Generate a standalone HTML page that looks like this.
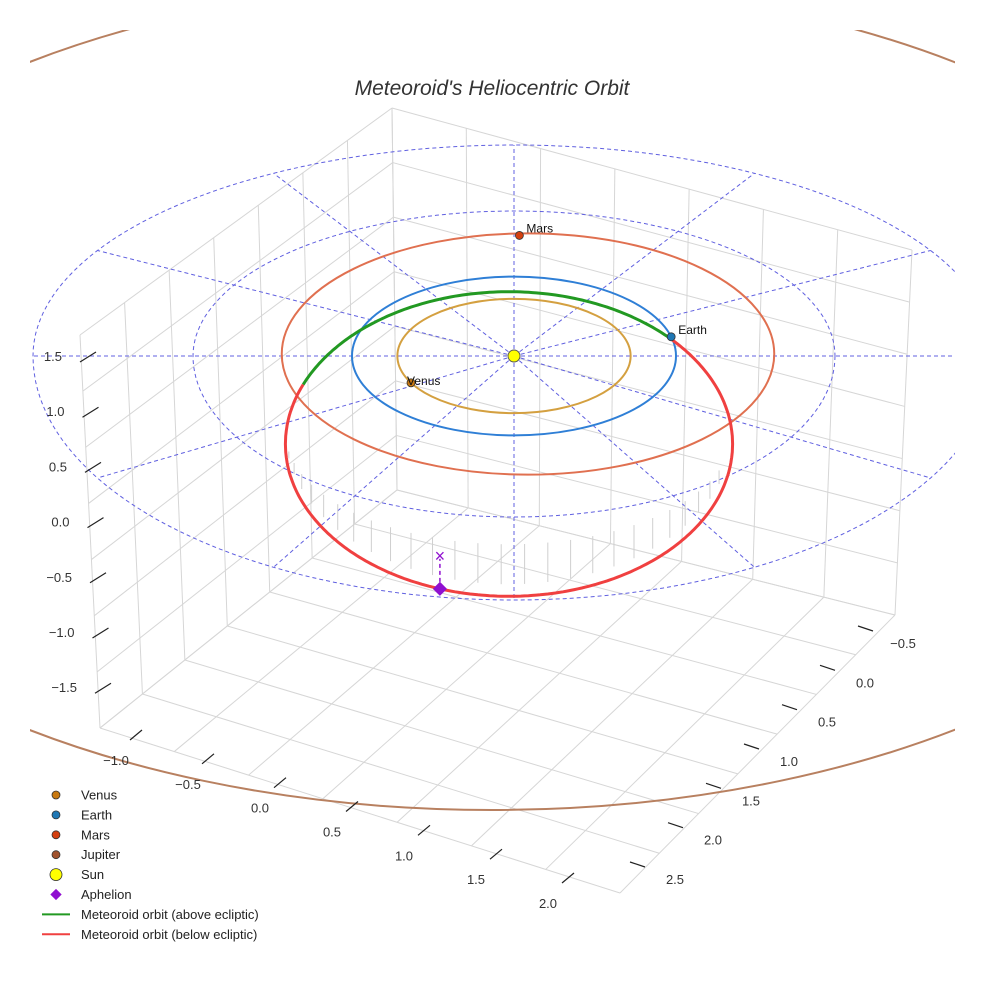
<!DOCTYPE html>
<html><head><meta charset="utf-8"><style>
body{margin:0;background:#fff;}
svg{display:block;font-family:"Liberation Sans",sans-serif;}
</style></head><body>
<svg id="chart" width="984" height="984" viewBox="0 0 984 984">
<defs><clipPath id="clip"><rect x="30" y="30" width="925" height="940"/></clipPath></defs>
<text x="492" y="95" text-anchor="middle" font-size="21" font-style="italic" fill="#333">Meteoroid's Heliocentric Orbit</text>
<g id="grid"></g>
<g id="refs"></g>
<g id="orbits"></g>
<g id="marks"></g>
<g id="ticks"></g>
<g id="legend"></g>
</svg>
<script>
// ---- data ----
const planetNames = ["Venus","Earth","Mars"];
const planetColors = ["#d4a040","#2f7fd6","#e07050"];
const planetMarkerColors = ["#c87810","#1f77b4","#d44010"];
const planetAU = [0.72, 1.0, 1.52];
const planetAngles = [152, -14, -92];
const planetCenterShift = [0, 0, 14];
const meteorA = 1.38, meteorB = 0.94;
const greenStart = -157, greenEnd = -44;
const aphelionAngle = 108;
const zTicks = ["1.5","1.0","0.5","0.0","\u22120.5","\u22121.0","\u22121.5"];
const xTicks = ["\u22121.0","\u22120.5","0.0","0.5","1.0","1.5","2.0"];
const yTicks = ["\u22120.5","0.0","0.5","1.0","1.5","2.0","2.5"];
const legendLabels = ["Venus","Earth","Mars","Jupiter","Sun","Aphelion","Meteoroid orbit (above ecliptic)","Meteoroid orbit (below ecliptic)"];

// ---- scales ----
const CX=514, CY=356, PXAU=162, TILT=0.49;
const NS="http://www.w3.org/2000/svg";
function mk(parent,tag,attrs){const e=document.createElementNS(NS,tag);for(const k in attrs)e.setAttribute(k,attrs[k]);document.getElementById(parent).appendChild(e);return e;}
function ex(au,deg){return CX+au*PXAU*Math.cos(deg*Math.PI/180);}
function ey(au,deg){return CY+au*PXAU*TILT*Math.sin(deg*Math.PI/180);}
function lerp(a,b,t){return [a[0]+(b[0]-a[0])*t,a[1]+(b[1]-a[1])*t];}

// ---- 3D box grid ----
const BL=[100,728],BB=[397,490],BR=[895,615],BF=[620,893];
const TL=[80,335],TB=[392,108],TR=[912,250];
function gl(a,b){const e=mk('grid','line',{x1:a[0],y1:a[1],x2:b[0],y2:b[1],stroke:'#d6d6d6','stroke-width':1});
}
for(let i=0;i<=7;i++){const t=i/7;gl(lerp(BL,BF,t),lerp(BB,BR,t));gl(lerp(BL,BB,t),lerp(BF,BR,t));}
for(let i=0;i<=7;i++){const t=i/7;gl(lerp(BL,BB,t),lerp(TL,TB,t));gl(lerp(BL,TL,t),lerp(BB,TB,t));}
for(let i=0;i<=7;i++){const t=i/7;gl(lerp(BB,BR,t),lerp(TB,TR,t));gl(lerp(BB,TB,t),lerp(BR,TR,t));}

// ---- reference dashed rings ----
const rings=[[481,211,244],[321,145,161]];
function ringPt(r,a){const s=Math.sin(a);return [CX+r[0]*Math.cos(a),CY+(s<0?r[1]:r[2])*s];}
rings.forEach(r=>{let d='';for(let k=0;k<=360;k+=2){const p=ringPt(r,k*Math.PI/180);d+=(d?'L':'M')+p[0].toFixed(1)+','+p[1].toFixed(1);}
const e=mk('refs','path',{d:d,fill:'none',stroke:'#6060e0','stroke-width':1,'stroke-dasharray':'4,3','clip-path':'url(#clip)'});
});
for(let k=0;k<12;k++){const p=ringPt(rings[0],k*30*Math.PI/180);
const e=mk('refs','line',{x1:CX,y1:CY,x2:p[0],y2:p[1],stroke:'#6060e0','stroke-width':1,'stroke-dasharray':'4,3','clip-path':'url(#clip)'});
}

// ---- Jupiter orbit ----
const jup=mk('orbits','ellipse',{cx:492,cy:396,rx:782,ry:414,fill:'none',stroke:'#b88060','stroke-width':2,'clip-path':'url(#clip)'});



// ---- planet orbits ----
planetNames.forEach((n,i)=>{const e=mk('orbits','ellipse',{cx:CX+planetCenterShift[i],cy:CY-(i===2?2:0),rx:planetAU[i]*PXAU,ry:planetAU[i]*PXAU*TILT,fill:'none',stroke:planetColors[i],'stroke-width':2});

});

// ---- meteoroid orbit ----
const MCX=509,MCY=444;
function mp(deg){return [MCX+meteorA*PXAU*Math.cos(deg*Math.PI/180),MCY+meteorB*PXAU*Math.sin(deg*Math.PI/180)];}
function arc(a0,a1){let d='';for(let a=a0;a<=a1+0.01;a+=1){const p=mp(a);d+=(d?'L':'M')+p[0].toFixed(1)+','+p[1].toFixed(1);}return d;}
for(let a=20;a<=170;a+=6){const p=mp(a);const h=40*Math.sin(a*Math.PI/180);
const e=mk('orbits','line',{x1:p[0],y1:p[1]-h-12,x2:p[0],y2:p[1]-12,stroke:'#cfcfcf','stroke-width':1});
}
const red=mk('orbits','path',{d:arc(greenEnd,greenStart+360),fill:'none',stroke:'#f04040','stroke-width':3});


const green=mk('orbits','path',{d:arc(greenStart,greenEnd),fill:'none',stroke:'#229922','stroke-width':3});



// ---- markers ----
planetNames.forEach((n,i)=>{const x=ex(planetAU[i],planetAngles[i])+planetCenterShift[i],y=ey(planetAU[i],planetAngles[i]);
const c=mk('marks','circle',{cx:x,cy:y,r:4,fill:planetMarkerColors[i],stroke:'#333','stroke-width':0.8});

const t=mk('marks','text',{x:x+(n==='Venus'?-4:7),y:y-(n==='Venus'?-2:3),'font-size':12,fill:'#111'});t.textContent=n;
});
const sun=mk('marks','circle',{cx:CX,cy:CY,r:6,fill:'#ffff00',stroke:'#555','stroke-width':1});


const ap=mp(aphelionAngle);
const apl=mk('marks','line',{x1:ap[0],y1:ap[1],x2:ap[0],y2:ap[1]-30,stroke:'#9010d0','stroke-width':1.5,'stroke-dasharray':'4,3'});


const apx=mk('marks','text',{x:ap[0],y:ap[1]-27,'text-anchor':'middle','font-size':18,fill:'#9010d0'});apx.textContent='\u00d7';


const apd=mk('marks','rect',{x:ap[0]-5,y:ap[1]-5,width:10,height:10,fill:'#9010d0',transform:`rotate(45 ${ap[0]} ${ap[1]})`});



// ---- ticks ----
zTicks.forEach((s,i)=>{const y=356+i*55.2;const x=82+i*2.5;
const l=mk('ticks','line',{x1:x-2,y1:y+6,x2:x+14,y2:y-4,stroke:'#222','stroke-width':1.2});
const t=mk('ticks','text',{x:x-20,y:y+5,'text-anchor':'end','font-size':13,fill:'#333'});t.textContent=s;});
xTicks.forEach((s,i)=>{const p=lerp([116,760],[548,903],i/6);
const l=mk('ticks','line',{x1:p[0]+14,y1:p[1]-20,x2:p[0]+26,y2:p[1]-30,stroke:'#222','stroke-width':1.2});
const t=mk('ticks','text',{x:p[0],y:p[1]+5,'text-anchor':'middle','font-size':13,fill:'#333'});t.textContent=s;});
yTicks.forEach((s,i)=>{const p=lerp([903,643],[675,879],i/6);
const l=mk('ticks','line',{x1:p[0]-45,y1:p[1]-17,x2:p[0]-30,y2:p[1]-12,stroke:'#222','stroke-width':1.2});
const t=mk('ticks','text',{x:p[0],y:p[1]+5,'text-anchor':'middle','font-size':13,fill:'#333'});t.textContent=s;});

// ---- legend ----
const legCols=["#c87810","#1f77b4","#d44010","#a0522d","#ffff00","#9010d0","#229922","#f04040"];
legendLabels.forEach((s,i)=>{const y=795+i*19.9;let m;
if(i<5){m=mk('legend','circle',{cx:56,cy:y,r:i===4?6:4,fill:legCols[i],stroke:'#333','stroke-width':0.8});}
else if(i===5){m=mk('legend','rect',{x:52,y:y-4,width:8,height:8,fill:legCols[i],transform:`rotate(45 56 ${y})`});}
else{m=mk('legend','line',{x1:42,y1:y,x2:70,y2:y,stroke:legCols[i],'stroke-width':2});}

const t=mk('legend','text',{x:81,y:y+4.5,'font-size':13,fill:'#222'});t.textContent=s;
});
</script>
</body></html>
